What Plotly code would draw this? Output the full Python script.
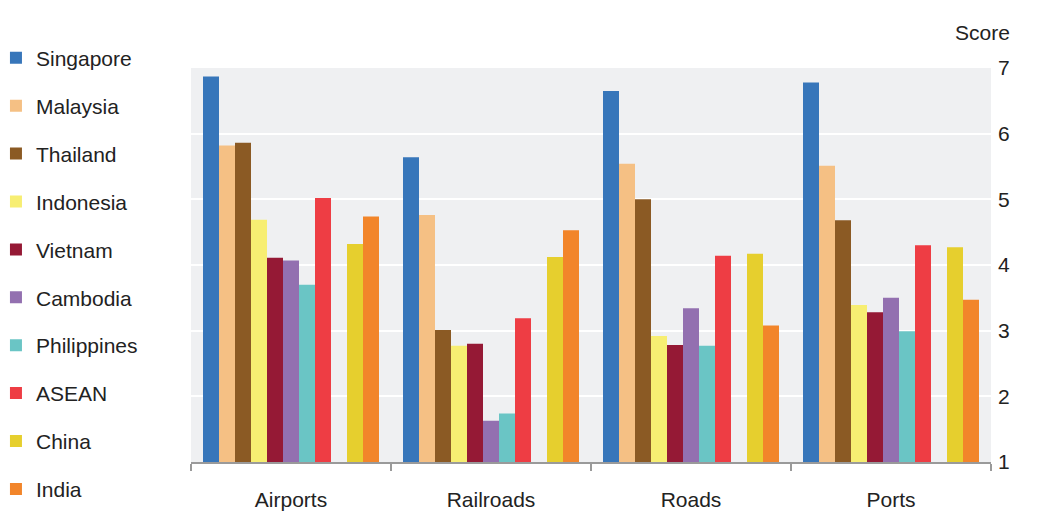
import plotly.graph_objects as go

categories = ["Airports", "Railroads", "Roads", "Ports"]

singapore = [6.87, 5.64, 6.65, 6.78]
malaysia = [5.82, 4.76, 5.54, 5.51]
thailand = [5.86, 3.01, 5.00, 4.68]
indonesia = [4.69, 2.77, 2.92, 3.39]
vietnam = [4.11, 2.80, 2.78, 3.28]
cambodia = [4.07, 1.63, 3.34, 3.50]
philippines = [3.70, 1.74, 2.77, 2.99]
asean = [5.02, 3.19, 4.14, 4.30]
china = [4.32, 4.12, 4.17, 4.27]
india = [4.74, 4.53, 3.08, 3.47]

series = [
    ("Singapore", singapore, "#3776BA"),
    ("Malaysia", malaysia, "#F5C084"),
    ("Thailand", thailand, "#8B5A24"),
    ("Indonesia", indonesia, "#F7EE72"),
    ("Vietnam", vietnam, "#951935"),
    ("Cambodia", cambodia, "#9370B0"),
    ("Philippines", philippines, "#6AC5C5"),
    ("ASEAN", asean, "#EE3D44"),
    (None, [None] * 4, "rgba(0,0,0,0)"),  # spacer slot between ASEAN and China
    ("China", china, "#E6CF2E"),
    ("India", india, "#F2852A"),
]

FONT = "Liberation Sans, Arial, Helvetica, sans-serif"
FS = 21

fig = go.Figure()
for name, vals, col in series:
    if name is None:
        fig.add_trace(go.Bar(x=categories, y=vals, showlegend=False,
                             marker=dict(color=col), hoverinfo="skip"))
    else:
        fig.add_trace(go.Bar(x=categories, y=vals, name=name, legendgroup=name,
                             marker=dict(color=col, line=dict(width=0))))

fig.update_layout(
    width=1056, height=519,
    margin=dict(l=191, r=65, t=68, b=57, autoexpand=False),
    paper_bgcolor="white",
    plot_bgcolor="#EFF0F2",
    barmode="group",
    bargap=0.12,
    bargroupgap=0,
    font=dict(family=FONT, size=FS, color="#222222"),
    showlegend=True,
    legend=dict(
        x=-0.2438, xanchor="left", y=1.077, yanchor="top",
        tracegroupgap=17.6, font=dict(size=FS, color="#222222"),
        bgcolor="rgba(0,0,0,0)", itemclick=False, itemdoubleclick=False,
        maxheight=600,
    ),
    xaxis=dict(
        showgrid=False, showline=True, linecolor="#9a9a9a", linewidth=1.5,
        ticks="outside", tickson="boundaries", ticklen=7, tickcolor="#9a9a9a",
        tickwidth=1.5, ticklabelstandoff=18,
        tickfont=dict(size=FS, color="#222222"),
    ),
    yaxis=dict(
        side="right", range=[1, 7], tickvals=[1, 2, 3, 4, 5, 6, 7],
        showgrid=True, gridcolor="white", gridwidth=2,
        zeroline=False, showline=False, ticks="",
        ticklabelstandoff=6,
        tickfont=dict(size=FS, color="#222222"),
    ),
    annotations=[dict(
        text="Score", xref="paper", yref="paper", x=1.0265, y=1.089,
        xanchor="right", yanchor="middle", showarrow=False,
        font=dict(size=FS, color="#222222"),
    )],
)

fig.write_html("out.html")
